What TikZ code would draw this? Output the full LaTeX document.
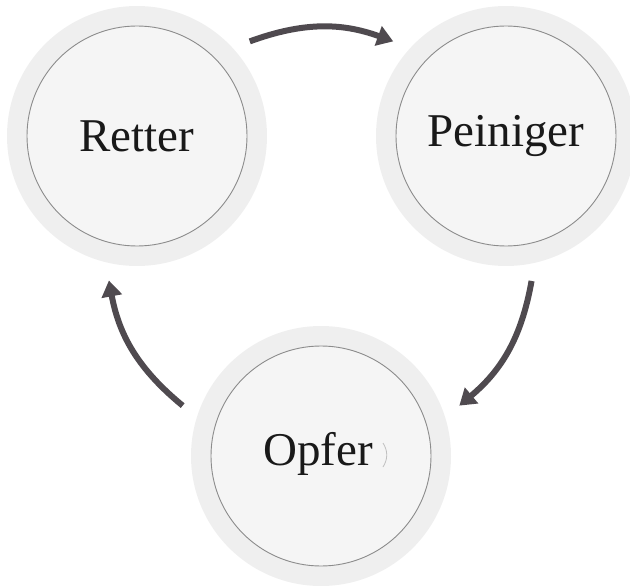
\documentclass[tikz,border=0pt]{standalone}
\usepackage{fontspec}
\setmainfont{Liberation Serif}
\usetikzlibrary{arrows.meta}
\definecolor{ringfill}{HTML}{EFEFEF}
\definecolor{innerfill}{HTML}{F5F5F5}
\definecolor{innerline}{HTML}{8C8C8C}
\definecolor{arrowcol}{HTML}{4F4A4F}
\tikzset{
  ring/.style={circle, fill=ringfill, minimum size=260pt, inner sep=0pt},
  core/.style={circle, fill=innerfill, draw=innerline, line width=0.9pt, minimum size=220pt, inner sep=0pt,
    font=\fontsize{47}{50}\selectfont, text=black!90},
  halo/.style={circle, minimum size=294pt, inner sep=0pt, draw=none},
  cyc/.style={draw=arrowcol, line width=6pt, -{Triangle[width=20pt,length=16pt]}, bend left=20},
}
\begin{document}
\begin{tikzpicture}[x=1pt,y=-1pt]
\useasboundingbox (0,0) rectangle (630,586);
\node[ring] (Rr) at (137,136) {};
\node[ring] (Pr) at (506,136) {};
\node[ring] (Or) at (321,456) {};
\node[core] (R) at (137,136) {Retter};
\node[core] (P) at (506,136) {Peiniger};
\node[core] (O) at (321,456) {};
\node[font=\fontsize{47}{50}\selectfont, text=black!90] (Ot) at (318,454) {Opfer};
\draw[black!25, line width=0.8pt] (383,443) .. controls (388,451) and (388,459) .. (383,467);
\node[halo] (Rz) at (137,136) {};
\node[halo] (Pz) at (506,136) {};
\node[halo] (Oz) at (321,456) {};
\draw[cyc] (Rz.40) to (Pz.140);
\draw[cyc] (Pz.-80) to (Oz.20);
\draw[cyc] (Oz.160) to (Rz.-101);
\end{tikzpicture}
\end{document}
